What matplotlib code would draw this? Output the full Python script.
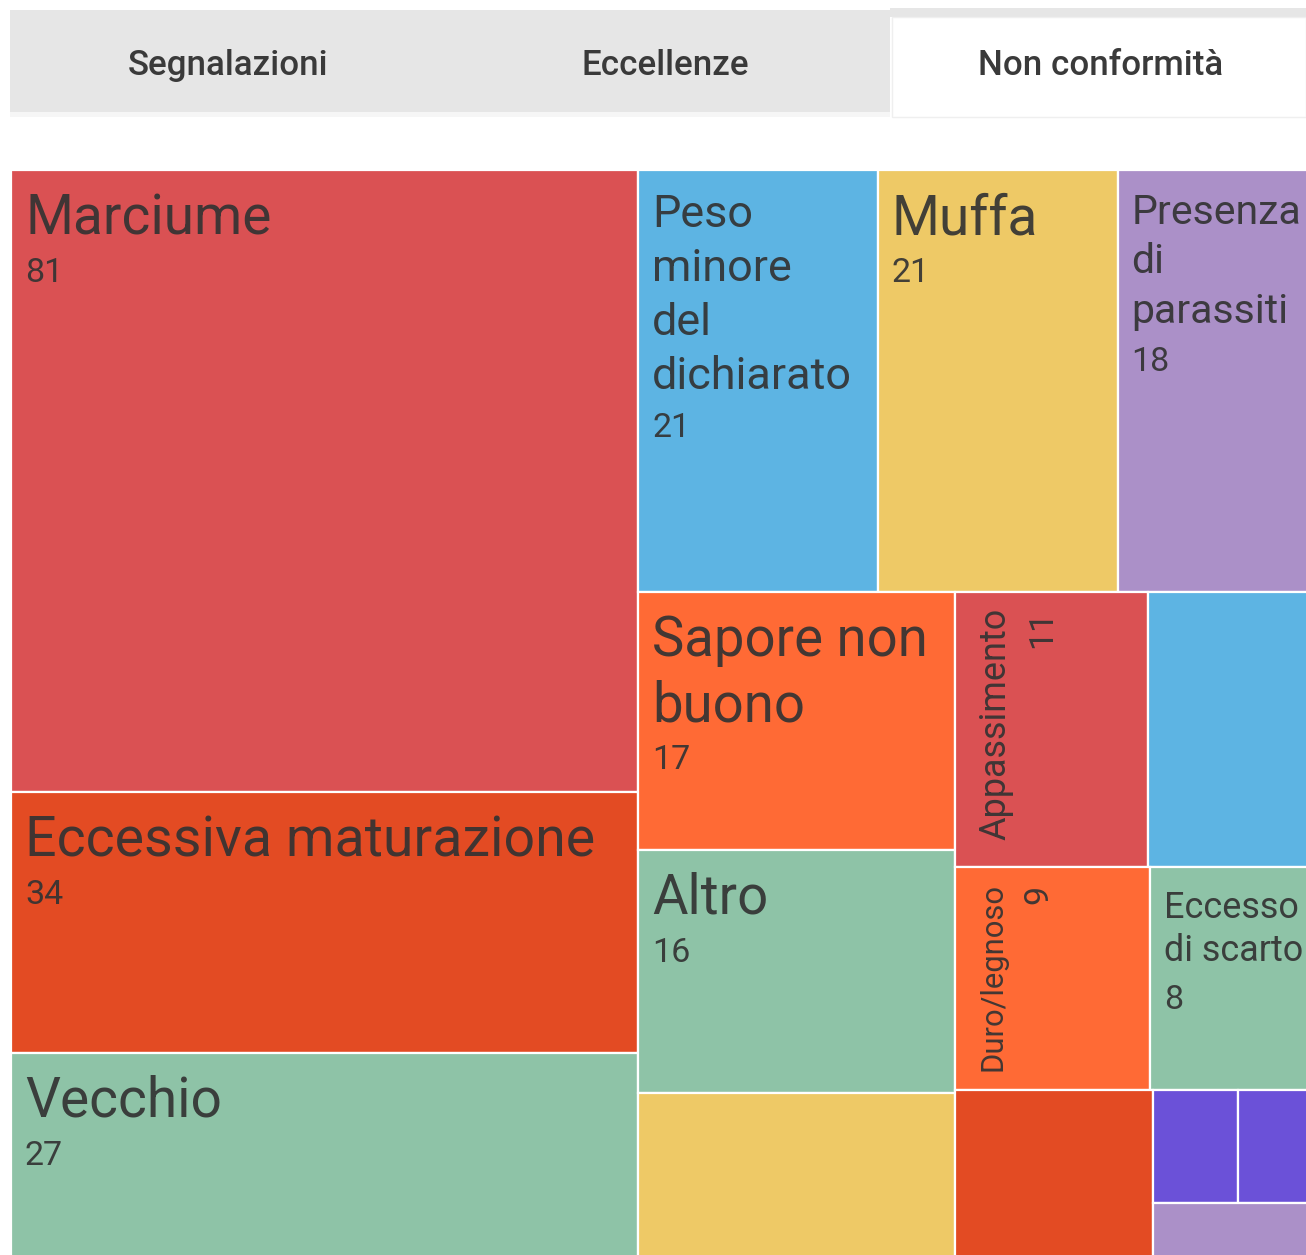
import matplotlib
matplotlib.use("Agg")
import matplotlib.pyplot as plt
from matplotlib.patches import Rectangle

# ---------------- data ----------------
categories = ["Marciume", "Eccessiva maturazione", "Vecchio",
              "Peso minore del dichiarato", "Muffa", "Presenza di parassiti",
              "Sapore non buono", "Altro", "", "Appassimento", "",
              "Duro/legnoso", "Eccesso di scarto", "", "", "", ""]
values = [81, 34, 27, 21, 21, 18, 17, 16, 11, 11, 10, 9, 8, 7, 2, 2, 2]

tab_labels = ["Segnalazioni", "Eccellenze", "Non conformità"]

# ---------------- styles ----------------
cell_colors = ["#DA5153", "#E34B23", "#8EC3A7",
               "#5DB4E3", "#EEC966", "#AB90C8",
               "#FF6A35", "#8EC3A7", "#EEC966", "#DA5153", "#5DB4E3",
               "#FF6A35", "#8EC3A7", "#E34B23", "#6B51D8", "#6B51D8", "#AB90C8"]

# display text (line wrapping), name font size in px, rotated?
label_style = {
    "Marciume": ("Marciume", 55, False),
    "Eccessiva maturazione": ("Eccessiva maturazione", 55.5, False),
    "Vecchio": ("Vecchio", 55, False),
    "Peso minore del dichiarato": ("Peso\nminore\ndel\ndichiarato", 45, False),
    "Muffa": ("Muffa", 55, False),
    "Presenza di parassiti": ("Presenza\ndi\nparassiti", 41, False),
    "Sapore non buono": ("Sapore non\nbuono", 54.5, False),
    "Altro": ("Altro", 54.5, False),
    "Appassimento": ("Appassimento", 36, True),
    "Duro/legnoso": ("Duro/legnoso", 31, True),
    "Eccesso di scarto": ("Eccesso\ndi scarto", 36, False),
}
NUM_PX = 34
TEXT_COLOR = "#333333"
FONT = "Roboto"

W_PX, H_PX = 1306, 1255
DPI = 100
PT = 72.0 / DPI  # px -> pt

# treemap frame (extends slightly beyond the visible canvas, as in the reference)
TM_X0, TM_Y0, TM_W, TM_H = 11, 170, 1312, 1090


def squarify(vals, x0, y0, x1, y1, ratio=(1 + 5 ** 0.5) / 2):
    """d3-style squarified treemap layout."""
    n = len(vals)
    rects = [None] * n
    value = float(sum(vals))
    i0 = 0
    while i0 < n:
        dx, dy = x1 - x0, y1 - y0
        i1 = i0
        sumv = vals[i1]
        i1 += 1
        minv = maxv = sumv
        alpha = max(dy / dx, dx / dy) / (value * ratio)
        beta = sumv * sumv * alpha
        min_ratio = max(maxv / beta, beta / minv)
        while i1 < n:
            nv = vals[i1]
            s = sumv + nv
            mn, mx = min(minv, nv), max(maxv, nv)
            beta = s * s * alpha
            nr = max(mx / beta, beta / mn)
            if nr > min_ratio:
                break
            sumv, minv, maxv, min_ratio = s, mn, mx, nr
            i1 += 1
        row = range(i0, i1)
        if dx < dy:  # row across the top
            yb = y0 + dy * sumv / value
            x = x0
            for i in row:
                w = dx * vals[i] / sumv
                rects[i] = (x, y0, w, yb - y0)
                x += w
            y0 = yb
        else:  # column at the left
            xb = x0 + dx * sumv / value
            y = y0
            for i in row:
                h = dy * vals[i] / sumv
                rects[i] = (x0, y, xb - x0, h)
                y += h
            x0 = xb
        value -= sumv
        i0 = i1
    return rects


fig = plt.figure(figsize=(W_PX / DPI, H_PX / DPI), dpi=DPI)
ax = fig.add_axes([0, 0, 1, 1])
ax.set_xlim(0, W_PX)
ax.set_ylim(H_PX, 0)
ax.axis("off")

# ---------------- tabs ----------------
ax.add_patch(Rectangle((10, 10), 880, 102, facecolor="#E6E6E6", edgecolor="none"))
ax.add_patch(Rectangle((890, 8), W_PX - 890, 9, facecolor="#E6E6E6", edgecolor="none"))
ax.add_patch(Rectangle((10, 112), 880, 5, facecolor="#F6F6F6", edgecolor="none"))
ax.add_patch(Rectangle((892, 17), W_PX - 892, 100, facecolor="white",
                       edgecolor="#EFEFEF", linewidth=1.0))
tab_centers = [228, 665, 1101]
for lab, cx in zip(tab_labels, tab_centers):
    ax.text(cx, 75, lab, ha="center", va="baseline", fontsize=35 * PT,
            family=FONT, fontweight="medium", color="#3a3a3a")

# ---------------- treemap ----------------
rects = squarify(values, TM_X0, TM_Y0, TM_X0 + TM_W, TM_Y0 + TM_H)
for (x, y, w, h), col in zip(rects, cell_colors):
    ax.add_patch(Rectangle((x, y), w, h, facecolor=col, edgecolor="white",
                           linewidth=1.6))

CAP = 0.711
PAD_L = 14
PAD_T = 25
for name, v, (x, y, w, h) in zip(categories, values, rects):
    if not name or name not in label_style:
        continue
    disp, size, rotated = label_style[name]
    lines = disp.split("\n")
    pitch = 1.2 * size
    if not rotated:
        base = y + PAD_T + CAP * size
        for k, ln in enumerate(lines):
            ax.text(x + PAD_L, base + k * pitch, ln, ha="left", va="baseline",
                    fontsize=size * PT, family=FONT, color=TEXT_COLOR,
                    alpha=0.92, clip_on=True)
        last = base + (len(lines) - 1) * pitch
        ax.text(x + PAD_L, last + 48, str(v), ha="left", va="baseline",
                fontsize=NUM_PX * PT, family=FONT, color=TEXT_COLOR,
                alpha=0.92, clip_on=True)
    else:
        bx = x + PAD_T - 1 + CAP * size
        ax.text(bx, y + 16, disp, ha="right", va="baseline", rotation=90,
                rotation_mode="anchor", fontsize=size * PT, family=FONT,
                color=TEXT_COLOR, alpha=0.92, clip_on=True)
        ax.text(bx + 46, y + 18, str(v), ha="right", va="baseline",
                rotation=90, rotation_mode="anchor", fontsize=NUM_PX * PT,
                family=FONT, color=TEXT_COLOR, alpha=0.92, clip_on=True)

fig.savefig("out.png", dpi=DPI)
